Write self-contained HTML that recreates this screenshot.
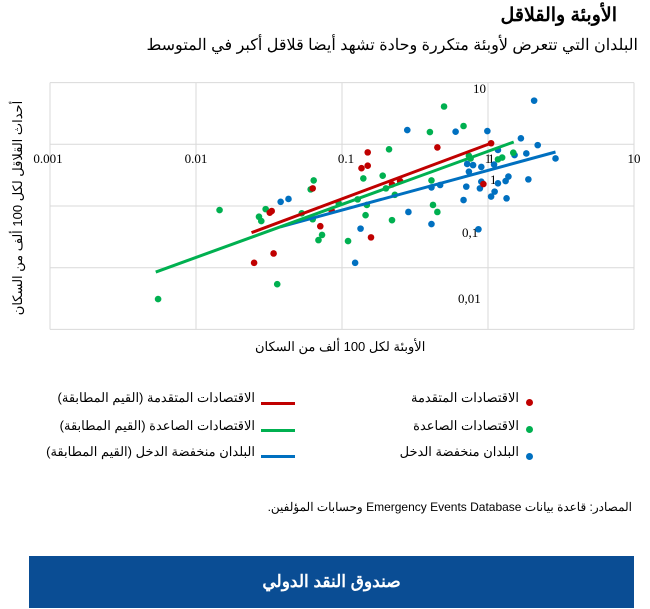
<!DOCTYPE html>
<html lang="ar"><head><meta charset="utf-8">
<style>
body{margin:0;width:650px;height:609px;background:#fff;font-family:"Liberation Sans","Noto Sans CJK SC",sans-serif;position:relative;overflow:hidden}
.t{position:absolute;white-space:nowrap;direction:rtl;color:#000}
</style></head><body>
<div class="t" style="right:33px;top:4px;font-size:19px;font-weight:bold">الأوبئة والقلاقل</div>
<div class="t" style="right:12px;top:35px;font-size:16px">البلدان التي تتعرض لأوبئة متكررة وحادة تشهد أيضا قلاقل أكبر في المتوسط</div>
<svg id="chart" width="650" height="380" style="position:absolute;left:0;top:0" font-family="Liberation Serif, serif"></svg>
<div class="t" style="left:255px;top:339px;font-size:13px">الأوبئة لكل 100 ألف من السكان</div>
<div class="t" style="left:-92px;top:200px;font-size:13px;transform:rotate(-90deg);width:220px;text-align:center">أحداث القلاقل لكل 100 ألف من السكان</div>
<div>
<div><span style="position:absolute;left:526px;top:399px;width:7px;height:7px;border-radius:50%;background:#c00000"></span><div class="t" style="right:131px;top:390px;font-size:13px">الاقتصادات المتقدمة</div></div>
<div><span style="position:absolute;left:526px;top:426px;width:7px;height:7px;border-radius:50%;background:#00b050"></span><div class="t" style="right:131px;top:418px;font-size:13px">الاقتصادات الصاعدة</div></div>
<div><span style="position:absolute;left:526px;top:453px;width:7px;height:7px;border-radius:50%;background:#0070c0"></span><div class="t" style="right:131px;top:444px;font-size:13px">البلدان منخفضة الدخل</div></div>
<div><span style="position:absolute;left:261px;top:402px;width:34px;height:3px;background:#c00000"></span><div class="t" style="right:395px;top:390px;font-size:13px">الاقتصادات المتقدمة (القيم المطابقة)</div></div>
<div><span style="position:absolute;left:261px;top:429px;width:34px;height:3px;background:#00b050"></span><div class="t" style="right:395px;top:418px;font-size:13px">الاقتصادات الصاعدة (القيم المطابقة)</div></div>
<div><span style="position:absolute;left:261px;top:455px;width:34px;height:3px;background:#0070c0"></span><div class="t" style="right:395px;top:444px;font-size:13px">البلدان منخفضة الدخل (القيم المطابقة)</div></div>
</div>
<div class="t" style="right:18px;top:500px;font-size:12px">المصادر: قاعدة بيانات Emergency Events Database وحسابات المؤلفين.</div>
<div style="position:absolute;left:29px;top:556px;width:605px;height:52px;background:#0a4d94;color:#fff;font-size:17px;font-weight:bold;text-align:center;line-height:52px;direction:rtl">صندوق النقد الدولي</div>
<script>
const xTickVals=[0.001,0.01,0.1,1,10];
const xTickLabels=["0.001","0.01","0.1","1","10"];
const yGridVals=[100,10,1,0.1,0.01];
const advX=[1.05,0.45,0.15,0.136,0.15,0.063,0.22,0.25,0.93,0.085,0.033,0.032,0.071,0.158,0.034,0.025];
const advY=[10.4,8.9,7.4,4.1,4.5,1.93,2.24,2.54,2.27,0.84,0.83,0.78,0.47,0.31,0.17,0.12];
const emgX=[0.5,0.68,0.4,0.21,1.49,1.25,1.17,0.74,0.76,0.14,0.19,0.064,0.061,0.41,0.2,0.23,0.128,0.095,0.148,0.42,0.0145,0.03,0.053,0.063,0.027,0.028,0.145,0.45,0.22,0.073,0.069,0.11,0.036,0.0055];
const emgY=[41,19.8,15.8,8.3,7.3,6.1,5.7,6.5,5.9,2.8,3.1,2.6,1.86,2.6,1.93,1.52,1.28,1.1,1.04,1.04,0.86,0.89,0.76,0.61,0.67,0.57,0.71,0.8,0.59,0.34,0.28,0.27,0.054,0.031];
const lowX=[2.07,0.28,0.6,0.99,1.68,2.19,1.17,1.52,1.83,2.9,1.1,0.72,0.79,0.9,0.74,1.17,1.38,1.32,1.89,0.9,0.71,0.88,0.47,0.41,1.11,1.05,0.68,1.34,0.038,0.043,0.285,0.41,0.134,0.86,0.123];
const lowY=[51,17,16,16.4,12.5,9.7,8.1,6.7,7.1,5.9,4.7,4.8,4.6,4.3,3.6,2.33,3.0,2.54,2.7,2.48,2.06,1.93,2.19,2.0,1.71,1.42,1.25,1.33,1.17,1.3,0.8,0.51,0.43,0.42,0.12];
const advFitX=[0.024,1.06], advFitY=[0.37,10.5];
const emgFitX=[0.0053,1.5], emgFitY=[0.085,10.9];
const lowFitX=[0.038,2.9], lowFitY=[0.46,7.5];

const X0=50,XD=146,Y0=206,YD=61.7;
function sx(v){return X0+XD*(Math.log10(v)+3);}
function sy(v){return Y0-YD*Math.log10(v);}
const svg=document.getElementById('chart');
const NS='http://www.w3.org/2000/svg';
function mk(t,a){const e=document.createElementNS(NS,t);for(const k in a)e.setAttribute(k,a[k]);svg.appendChild(e);return e;}
yGridVals.forEach(v=>{const l=mk('line',{x1:sx(0.001),x2:sx(10),y1:sy(v),y2:sy(v),stroke:'#d9d9d9','stroke-width':1});

});
xTickVals.forEach((v,i)=>{const l=mk('line',{x1:sx(v),x2:sx(v),y1:sy(100),y2:sy(0.01),stroke:'#d9d9d9','stroke-width':1});


if(xTickLabels[i]==="0.1")return;
const t=mk('text',{x:sx(v)+(i===0?-2:0),y:163,'font-size':13,'text-anchor':'middle'});t.textContent=xTickLabels[i];

});
const t01=mk('text',{x:346,y:163,'font-size':13,'text-anchor':'middle'});t01.textContent='0.1';


[["10",473,93],["1",488,163],["1",490,184],["0,1",462,237],["0,01",458,303]].forEach(d=>{const t=mk('text',{x:d[1],y:d[2],'font-size':13});t.textContent=d[0];

});
function dots(xs,ys,c,n){xs.forEach((x,i)=>{const e=mk('circle',{cx:sx(x),cy:sy(ys[i]),r:3.3,fill:c});

});}
function fit(xs,ys,c,n){const e=mk('line',{x1:sx(xs[0]),y1:sy(ys[0]),x2:sx(xs[1]),y2:sy(ys[1]),stroke:c,'stroke-width':3});

}
dots(lowX,lowY,'#0070c0','lowincome-point');
dots(emgX,emgY,'#00b050','emerging-point');
dots(advX,advY,'#c00000','advanced-point');
fit(lowFitX,lowFitY,'#0070c0','lowincome-fit-line');
fit(advFitX,advFitY,'#c00000','advanced-fit-line');
fit(emgFitX,emgFitY,'#00b050','emerging-fit-line');
</script>
</body></html>
